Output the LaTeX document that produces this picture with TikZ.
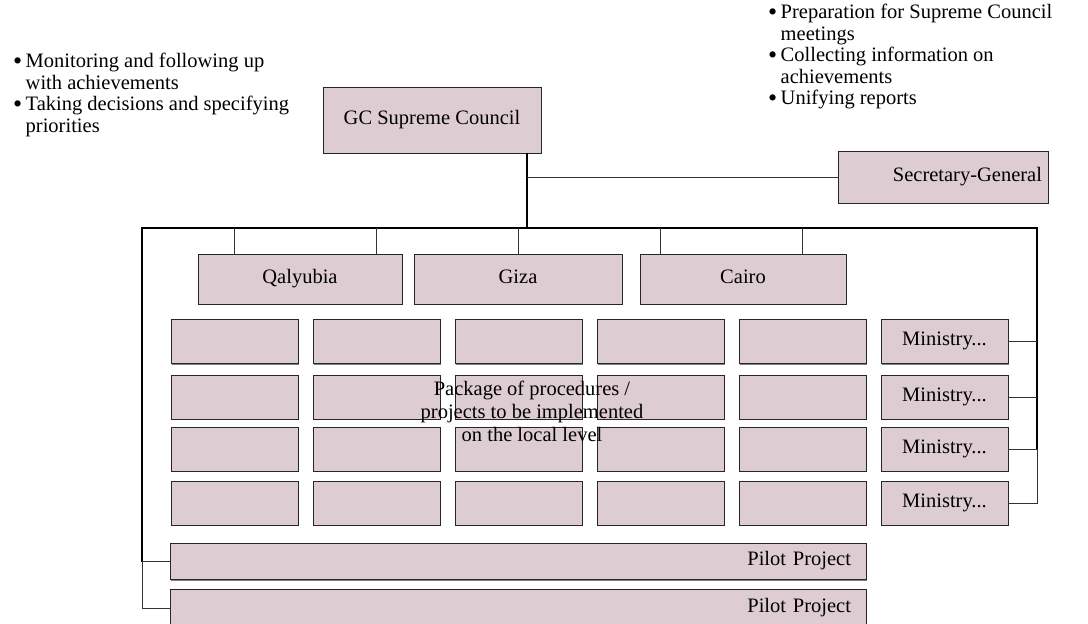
\documentclass[tikz,border=0pt]{standalone}
\usepackage{fontspec}
\setmainfont{Liberation Serif}
\usetikzlibrary{positioning, calc, shadows}

\definecolor{boxfill}{RGB}{221,205,211}
\newcommand{\dotitem}{\raisebox{-1.8pt}{\fontsize{26}{21.5}\selectfont\textbullet}\,}

\begin{document}
\begin{tikzpicture}[x=1pt, y=-1pt,
    font=\fontsize{20.5}{21.5}\selectfont,
    box/.style={draw=black!85, line width=0.8pt, fill=boxfill, inner sep=0pt,
        text height=13pt, text depth=5pt,
        drop shadow={shadow xshift=1.1pt, shadow yshift=-1.1pt, fill=black!50, opacity=1}},
    cell/.style={box, minimum width=127, minimum height=44},
    bar/.style={line width=2.3pt},
    link/.style={line width=0.9pt, draw=black!80},
    notes/.style={align=left, inner sep=0pt, anchor=north west}]

    % Frame
    \clip (0,0) rectangle (1088,624);
    \fill[white] (0,0) rectangle (1088,624);

    % Notes
    \node[notes] (tasksL) at (13,53) {\dotitem Monitoring and following up\\
        \hphantom{\dotitem}with achievements\\
        \dotitem Taking decisions and specifying\\
        \hphantom{\dotitem}priorities};
    \node[notes] (tasksR) at (768,4) {\dotitem Preparation for Supreme Council\\
        \hphantom{\dotitem}meetings\\
        \dotitem Collecting information on\\
        \hphantom{\dotitem}achievements\\
        \dotitem Unifying reports};

    % Council and secretary
    \node[box, minimum width=218, minimum height=66] (gc) at (432,120) {GC Supreme Council};
    \node[box, minimum width=210, minimum height=52, text width=198, align=right] (sg) at (943,177) {Secretary-General};

    % Governorates
    \node[box, minimum width=204, minimum height=50] (qal) at (300,279) {Qalyubia};
    \node[box, minimum width=208, minimum height=50] (giz) at (518,279) {Giza};
    \node[box, minimum width=206, minimum height=50] (cai) at (743,279) {Cairo};

    % Procedures grid and ministries
    \foreach \r/\y in {1/341.5, 2/397, 3/449, 4/503} {
      \foreach \c in {1,...,5}
        \node[cell] (c-\r-\c) at ({234.5+142*(\c-1)},\y) {};
      \node[cell] (m-\r) at (944.5,\y) {Ministry...};
    }

    % Pilot projects
    \node[box, minimum width=696, minimum height=36, text width=666, align=right] (p-1) at (518,561.5) {Pilot Project};
    \node[box, minimum width=696, minimum height=38, text width=666, align=right] (p-2) at (518,608) {Pilot Project};

    % Connectors
    \coordinate (trunk) at (527,228);
    \coordinate (busL) at (142,228);
    \coordinate (busR) at (1037,228);
    \draw[bar] (gc.south -| trunk) -- (trunk);
    \draw[link] (sg.west -| trunk) -- (sg.west);
    \draw[bar] (p-1.west -| busL) -- (busL) -- (busR) -- (m-3.east -| busR);
    \draw[link] (p-1.west -| busL) -- (p-1.west);
    \draw[link] (p-1.west -| busL) -- (p-2.west -| busL) -- (p-2.west);
    \foreach \r in {1,2,3}
      \draw[link] (m-\r.east) -- (m-\r.east -| busR);
    \draw[link] (m-3.east -| busR) -- (m-4.east -| busR) -- (m-4.east);
    \foreach \c/\g in {1/qal, 2/qal, 3/giz, 4/cai, 5/cai}
      \draw[link] (c-1-\c |- busL) -- (c-1-\c |- \g.north);

    % Label over the grid
    \node[align=center, inner sep=0pt, font=\fontsize{20.5}{23}\selectfont] (pkg) at (532,411)
        {Package of procedures /\\projects to be implemented\\on the local level};
\end{tikzpicture}
\end{document}
